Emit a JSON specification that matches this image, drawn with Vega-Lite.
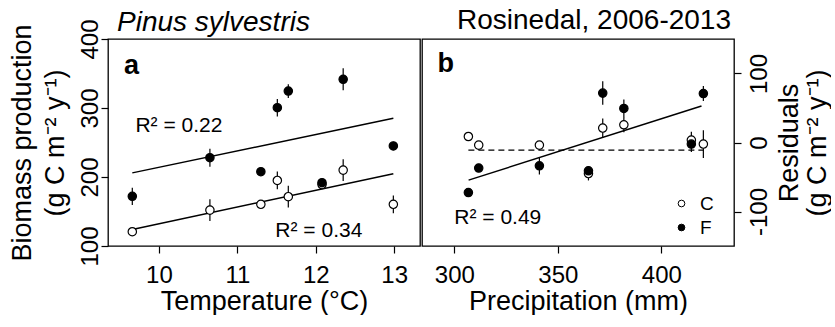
{
  "$schema": "https://vega.github.io/schema/vega-lite/v6.json",
  "background": "white",
  "padding": {"left": 7, "top": 6, "right": 0, "bottom": 0},
  "spacing": 0,
  "config": {
    "font": "Liberation Sans",
    "view": {"stroke": "black", "strokeWidth": 1.3}
  },
  "resolve": {"scale": {"fill": "independent"}, "legend": {"fill": "independent"}},
  "datasets": {
    "ptsA": [
      {"temp": 9.66, "bio": 120.7, "lo": 115.7, "hi": 125.7, "trt": "C"},
      {"temp": 10.65, "bio": 152, "lo": 136.3, "hi": 167.7, "trt": "C"},
      {"temp": 11.30, "bio": 160.4, "lo": 155.4, "hi": 165.4, "trt": "C"},
      {"temp": 11.51, "bio": 195, "lo": 182.2, "hi": 207.8, "trt": "C"},
      {"temp": 11.65, "bio": 171.5, "lo": 155.8, "hi": 187.2, "trt": "C"},
      {"temp": 12.08, "bio": 189, "lo": 184, "hi": 194, "trt": "C"},
      {"temp": 12.35, "bio": 210, "lo": 194.3, "hi": 225.7, "trt": "C"},
      {"temp": 12.99, "bio": 160.4, "lo": 147.6, "hi": 173.2, "trt": "C"},
      {"temp": 9.66, "bio": 172, "lo": 159.4, "hi": 184.6, "trt": "F"},
      {"temp": 10.65, "bio": 228, "lo": 215, "hi": 241, "trt": "F"},
      {"temp": 11.30, "bio": 207.7, "lo": 202.7, "hi": 212.7, "trt": "F"},
      {"temp": 11.51, "bio": 300.4, "lo": 287.6, "hi": 313.2, "trt": "F"},
      {"temp": 11.65, "bio": 324.6, "lo": 314.6, "hi": 334.6, "trt": "F"},
      {"temp": 12.08, "bio": 191.7, "lo": 185.7, "hi": 197.7, "trt": "F"},
      {"temp": 12.35, "bio": 341.6, "lo": 325.6, "hi": 357.6, "trt": "F"},
      {"temp": 12.99, "bio": 245, "lo": 239, "hi": 251, "trt": "F"}
    ],
    "fitA": [
      {"temp": 9.66, "bio": 124, "trt": "C"},
      {"temp": 12.99, "bio": 204.8, "trt": "C"},
      {"temp": 9.66, "bio": 206, "trt": "F"},
      {"temp": 12.99, "bio": 285, "trt": "F"}
    ],
    "labA": [
      {"temp": 9.70, "bio": 274, "label": "R² = 0.22"},
      {"temp": 11.485, "bio": 121.7, "label": "R² = 0.34"}
    ],
    "letA": [{"temp": 9.553, "bio": 361, "label": "a"}],
    "ptsB": [
      {"prec": 306.8, "res": 8.7, "lo": 3.7, "hi": 13.7, "trt": "C"},
      {"prec": 311.8, "res": -3.8, "lo": -8.8, "hi": 1.2, "trt": "C"},
      {"prec": 341.1, "res": -3.8, "lo": -8.8, "hi": 1.2, "trt": "C"},
      {"prec": 364.8, "res": -45, "lo": -55, "hi": -35, "trt": "C"},
      {"prec": 371.7, "res": 20.9, "lo": 6.9, "hi": 34.9, "trt": "C"},
      {"prec": 381.9, "res": 25.7, "lo": 14.7, "hi": 36.7, "trt": "C"},
      {"prec": 414.5, "res": 3.5, "lo": -8.5, "hi": 15.5, "trt": "C"},
      {"prec": 420.3, "res": -2.3, "lo": -22.3, "hi": 17.7, "trt": "C"},
      {"prec": 306.8, "res": -72.5, "lo": -77.5, "hi": -67.5, "trt": "F"},
      {"prec": 311.8, "res": -37, "lo": -42, "hi": -32, "trt": "F"},
      {"prec": 341.1, "res": -33.8, "lo": -46.3, "hi": -21.3, "trt": "F"},
      {"prec": 364.8, "res": -41, "lo": -47, "hi": -35, "trt": "F"},
      {"prec": 371.7, "res": 71.6, "lo": 54.6, "hi": 88.6, "trt": "F"},
      {"prec": 381.9, "res": 49.3, "lo": 36.3, "hi": 62.3, "trt": "F"},
      {"prec": 414.5, "res": -2.3, "lo": -13.9, "hi": 9.3, "trt": "F"},
      {"prec": 420.3, "res": 71, "lo": 60, "hi": 82, "trt": "F"}
    ],
    "fitB": [
      {"prec": 306.9, "res": -54.5},
      {"prec": 419.4, "res": 53}
    ],
    "dashB": [
      {"prec": 306.8, "res": -11},
      {"prec": 420.5, "res": -11}
    ],
    "labB": [{"prec": 300, "res": -108.7, "label": "R² = 0.49"}],
    "letB": [{"prec": 291.9, "res": 113.6, "label": "b"}]
  },
  "hconcat": [
    {
      "width": 312,
      "height": 207,
      "title": {"text": "Pinus sylvestris", "anchor": "start", "frame": "group", "fontStyle": "italic", "fontWeight": "normal", "fontSize": 28, "color": "black", "font": "Liberation Sans", "offset": -18, "dx": 9},
      "resolve": {"axis": {"y": "independent"}},
      "layer": [
        {
          "data": {"name": "fitA"},
          "mark": {"type": "line", "color": "black", "strokeWidth": 1.5},
          "encoding": {
            "x": {"field": "temp", "type": "quantitative", "scale": {"domain": [9.35, 13.33], "nice": false, "zero": false}, "axis": {"values": [10, 11, 12, 13], "format": "d", "grid": false, "domain": false, "tickColor": "black", "tickSize": 7, "tickWidth": 1.2, "labelColor": "black", "labelFontSize": 24, "labelFont": "Liberation Sans", "labelPadding": 10, "title": "Temperature (°C)", "titleColor": "black", "titleFontSize": 27, "titleFont": "Liberation Sans", "titleFontWeight": "normal", "titlePadding": 1}},
            "y": {"field": "bio", "type": "quantitative", "scale": {"domain": [100, 400], "nice": false, "zero": false}, "axis": {"orient": "left", "values": [100, 200, 300, 400], "grid": false, "domain": false, "tickColor": "black", "tickSize": 7, "tickWidth": 1.2, "labelColor": "black", "labelFontSize": 24, "labelFont": "Liberation Sans", "labelAngle": -90, "labelPadding": -1, "title": "(g C m⁻² y⁻¹)", "titleColor": "black", "titleFontSize": 27, "titleFont": "Liberation Sans", "titleFontWeight": "normal", "titlePadding": 9}},
            "detail": {"field": "trt", "type": "nominal"}
          }
        },
        {
          "data": {"name": "ptsA"},
          "mark": {"type": "rule", "color": "black", "strokeWidth": 1.2},
          "encoding": {
            "x": {"field": "temp", "type": "quantitative"},
            "y": {"field": "lo", "type": "quantitative", "axis": null},
            "y2": {"field": "hi"}
          }
        },
        {
          "data": {"name": "ptsA"},
          "mark": {"type": "point", "filled": true, "size": 70, "stroke": "black", "strokeWidth": 1.2, "opacity": 1},
          "encoding": {
            "x": {"field": "temp", "type": "quantitative"},
            "y": {"field": "bio", "type": "quantitative", "axis": null},
            "fill": {"field": "trt", "type": "nominal", "scale": {"domain": ["C", "F"], "range": ["white", "black"]}, "legend": null}
          }
        },
        {
          "data": {"name": "labA"},
          "mark": {"type": "text", "fontSize": 21, "align": "left", "baseline": "middle", "color": "black"},
          "encoding": {
            "x": {"field": "temp", "type": "quantitative"},
            "y": {"field": "bio", "type": "quantitative", "axis": null},
            "text": {"field": "label"}
          }
        },
        {
          "data": {"name": "letA"},
          "mark": {"type": "text", "fontSize": 27, "fontWeight": "bold", "align": "left", "baseline": "middle", "color": "black"},
          "encoding": {
            "x": {"field": "temp", "type": "quantitative"},
            "y": {"field": "bio", "type": "quantitative", "axis": {"orient": "left", "offset": 72, "ticks": false, "labels": false, "grid": false, "domain": false, "title": "Biomass production", "titleColor": "black", "titleFontSize": 27, "titleFont": "Liberation Sans", "titleFontWeight": "normal", "titlePadding": 0}},
            "text": {"field": "label"}
          }
        }
      ]
    },
    {
      "width": 312,
      "height": 207,
      "title": {"text": "Rosinedal, 2006-2013", "anchor": "end", "frame": "group", "fontWeight": "normal", "fontSize": 28, "color": "black", "font": "Liberation Sans", "offset": 4, "dx": -3},
      "resolve": {"axis": {"y": "independent"}},
      "layer": [
        {
          "data": {"name": "dashB"},
          "mark": {"type": "line", "color": "black", "strokeWidth": 1.3, "strokeDash": [6, 4]},
          "encoding": {
            "x": {"field": "prec", "type": "quantitative", "scale": {"domain": [284.4, 435.1], "nice": false, "zero": false}, "axis": {"values": [300, 350, 400], "grid": false, "domain": false, "tickColor": "black", "tickSize": 7, "tickWidth": 1.2, "labelColor": "black", "labelFontSize": 24, "labelFont": "Liberation Sans", "labelPadding": 10, "title": "Precipitation (mm)", "titleColor": "black", "titleFontSize": 27, "titleFont": "Liberation Sans", "titleFontWeight": "normal", "titlePadding": 1}},
            "y": {"field": "res", "type": "quantitative", "scale": {"domain": [-150, 150], "nice": false, "zero": false}, "axis": {"orient": "right", "values": [-100, 0, 100], "labelExpr": "'' + datum.value", "grid": false, "domain": false, "tickColor": "black", "tickSize": 7, "tickWidth": 1.2, "labelColor": "black", "labelFontSize": 24, "labelFont": "Liberation Sans", "labelAngle": -90, "labelPadding": 6, "title": "Residuals", "titleColor": "black", "titleFontSize": 27, "titleFont": "Liberation Sans", "titleFontWeight": "normal", "titleAngle": 270, "titleBaseline": "top", "titlePadding": 5}}
          }
        },
        {
          "data": {"name": "fitB"},
          "mark": {"type": "line", "color": "black", "strokeWidth": 1.5},
          "encoding": {
            "x": {"field": "prec", "type": "quantitative"},
            "y": {"field": "res", "type": "quantitative", "axis": null}
          }
        },
        {
          "data": {"name": "ptsB"},
          "mark": {"type": "rule", "color": "black", "strokeWidth": 1.2},
          "encoding": {
            "x": {"field": "prec", "type": "quantitative"},
            "y": {"field": "lo", "type": "quantitative", "axis": null},
            "y2": {"field": "hi"}
          }
        },
        {
          "data": {"name": "ptsB"},
          "mark": {"type": "point", "filled": true, "size": 70, "stroke": "black", "strokeWidth": 1.2, "opacity": 1},
          "encoding": {
            "x": {"field": "prec", "type": "quantitative"},
            "y": {"field": "res", "type": "quantitative", "axis": null},
            "fill": {"field": "trt", "type": "nominal", "scale": {"domain": ["C", "F"], "range": ["white", "black"]}, "legend": {"orient": "none", "legendX": 250, "legendY": 155, "title": null, "symbolType": "circle", "symbolSize": 45, "symbolStrokeColor": "black", "symbolStrokeWidth": 1, "labelFontSize": 19, "labelFont": "Liberation Sans", "labelColor": "black", "labelOffset": 9, "rowPadding": 4, "padding": 0}}
          }
        },
        {
          "data": {"name": "labB"},
          "mark": {"type": "text", "fontSize": 21, "align": "left", "baseline": "middle", "color": "black"},
          "encoding": {
            "x": {"field": "prec", "type": "quantitative"},
            "y": {"field": "res", "type": "quantitative", "axis": null},
            "text": {"field": "label"}
          }
        },
        {
          "data": {"name": "letB"},
          "mark": {"type": "text", "fontSize": 27, "fontWeight": "bold", "align": "left", "baseline": "middle", "color": "black"},
          "encoding": {
            "x": {"field": "prec", "type": "quantitative"},
            "y": {"field": "res", "type": "quantitative", "axis": {"orient": "right", "offset": 70, "ticks": false, "labels": false, "grid": false, "domain": false, "title": "(g C m⁻² y⁻¹)", "titleColor": "black", "titleFontSize": 27, "titleFont": "Liberation Sans", "titleFontWeight": "normal", "titleAngle": 270, "titleBaseline": "top", "titlePadding": 0}},
            "text": {"field": "label"}
          }
        }
      ]
    }
  ]
}
